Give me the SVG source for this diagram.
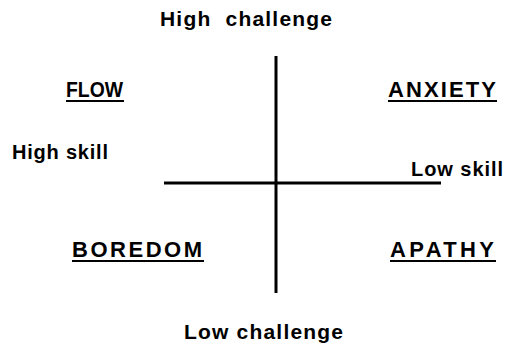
<svg xmlns="http://www.w3.org/2000/svg" width="510" height="360" viewBox="0 0 510 360">
<style>
.t{font-family:"Liberation Sans",Arial,Helvetica,sans-serif;font-weight:bold;fill:#000}
.h{font-size:22px}
.s{font-size:20px}
.c{font-size:21px}
.ax{stroke:#000;stroke-width:3;fill:none}
.u{stroke:#000;stroke-width:2}
</style>
<rect width="510" height="360" fill="#fff"/>
<g id="axes">
<line class="ax" x1="276" y1="56" x2="276" y2="293"/>
<line class="ax" x1="164" y1="183" x2="441" y2="183"/>
</g>
<g id="high-challenge"><text class="t c" x="160" y="26" textLength="172" lengthAdjust="spacing" xml:space="preserve">High  challenge</text></g>
<g id="low-challenge"><text class="t c" x="184" y="339" textLength="159" lengthAdjust="spacing">Low challenge</text></g>
<g id="high-skill"><text class="t s" x="12" y="159" textLength="96" lengthAdjust="spacing">High skill</text></g>
<g id="low-skill"><text class="t s" x="411" y="176" textLength="92" lengthAdjust="spacing">Low skill</text></g>
<g id="flow"><text class="t h" x="66" y="97" textLength="57" lengthAdjust="spacingAndGlyphs">FLOW</text><line class="u" x1="66" y1="101" x2="124" y2="101"/></g>
<g id="anxiety"><text class="t h" x="388" y="97" textLength="108" lengthAdjust="spacing">ANXIETY</text><line class="u" x1="388" y1="101" x2="497" y2="101"/></g>
<g id="boredom"><text class="t h" x="72" y="257" textLength="130" lengthAdjust="spacing">BOREDOM</text><line class="u" x1="72" y1="261" x2="204" y2="261"/></g>
<g id="apathy"><text class="t h" x="390" y="257" textLength="104" lengthAdjust="spacing">APATHY</text><line class="u" x1="390" y1="261" x2="496" y2="261"/></g>
</svg>
